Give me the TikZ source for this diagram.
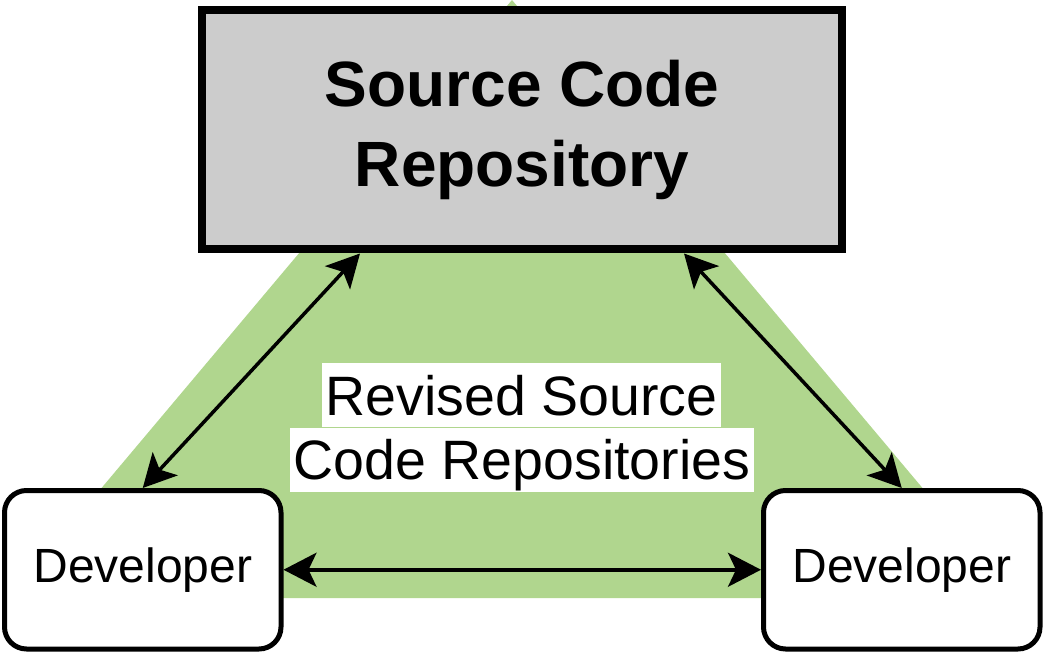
\documentclass[tikz,border=0pt]{standalone}
\usepackage{fontspec}
\setmainfont{Liberation Sans}
\usetikzlibrary{arrows.meta,calc}
\definecolor{trigreen}{RGB}{176,214,142}
\definecolor{repogray}{RGB}{204,204,204}

\begin{document}
\begin{tikzpicture}[x=1pt,y=-1pt,
    repo/.style={draw,line width=8pt,fill=repogray,minimum width=640pt,minimum height=239.5pt,
      align=center,font=\fontsize{64}{80}\selectfont\bfseries},
    dev/.style={draw,line width=5pt,fill=white,rounded corners=22pt,minimum width=276.5pt,
      minimum height=158.5pt,font=\fontsize{48}{56}\selectfont},
    lbl/.style={fill=white,inner xsep=4pt,inner ysep=8pt,text height=44pt,text depth=4pt,
      font=\fontsize{55.5}{64}\selectfont},
    link/.style={line width=3.5pt,{Stealth[length=33pt,width=34pt,inset=8pt]}-{Stealth[length=33pt,width=34pt,inset=8pt]}}]
      \useasboundingbox (0,0) rectangle (1044,652);
      \fill[trigreen] (512,0) -- (9,598) -- (1015,598) -- cycle;
      \draw
        (522,129.75) node[repo] (repo){Source Code\\Repository}
        (142.75,569.75) node[dev] (devl){Developer}
        (901.75,569.75) node[dev] (devr){Developer}
        (521.5,395) node[lbl] (rev1){Revised Source}
        (522,459.5) node[lbl] (rev2){Code Repositories};
      \begin{scope}[link]
        \draw ($(repo.south west)!0.25!(repo.south east)$) -- (devl.north);
        \draw ($(repo.south west)!0.75!(repo.south east)$) -- (devr.north);
        \draw (devl.east) -- (devr.west);
      \end{scope}
\end{tikzpicture}
\end{document}
